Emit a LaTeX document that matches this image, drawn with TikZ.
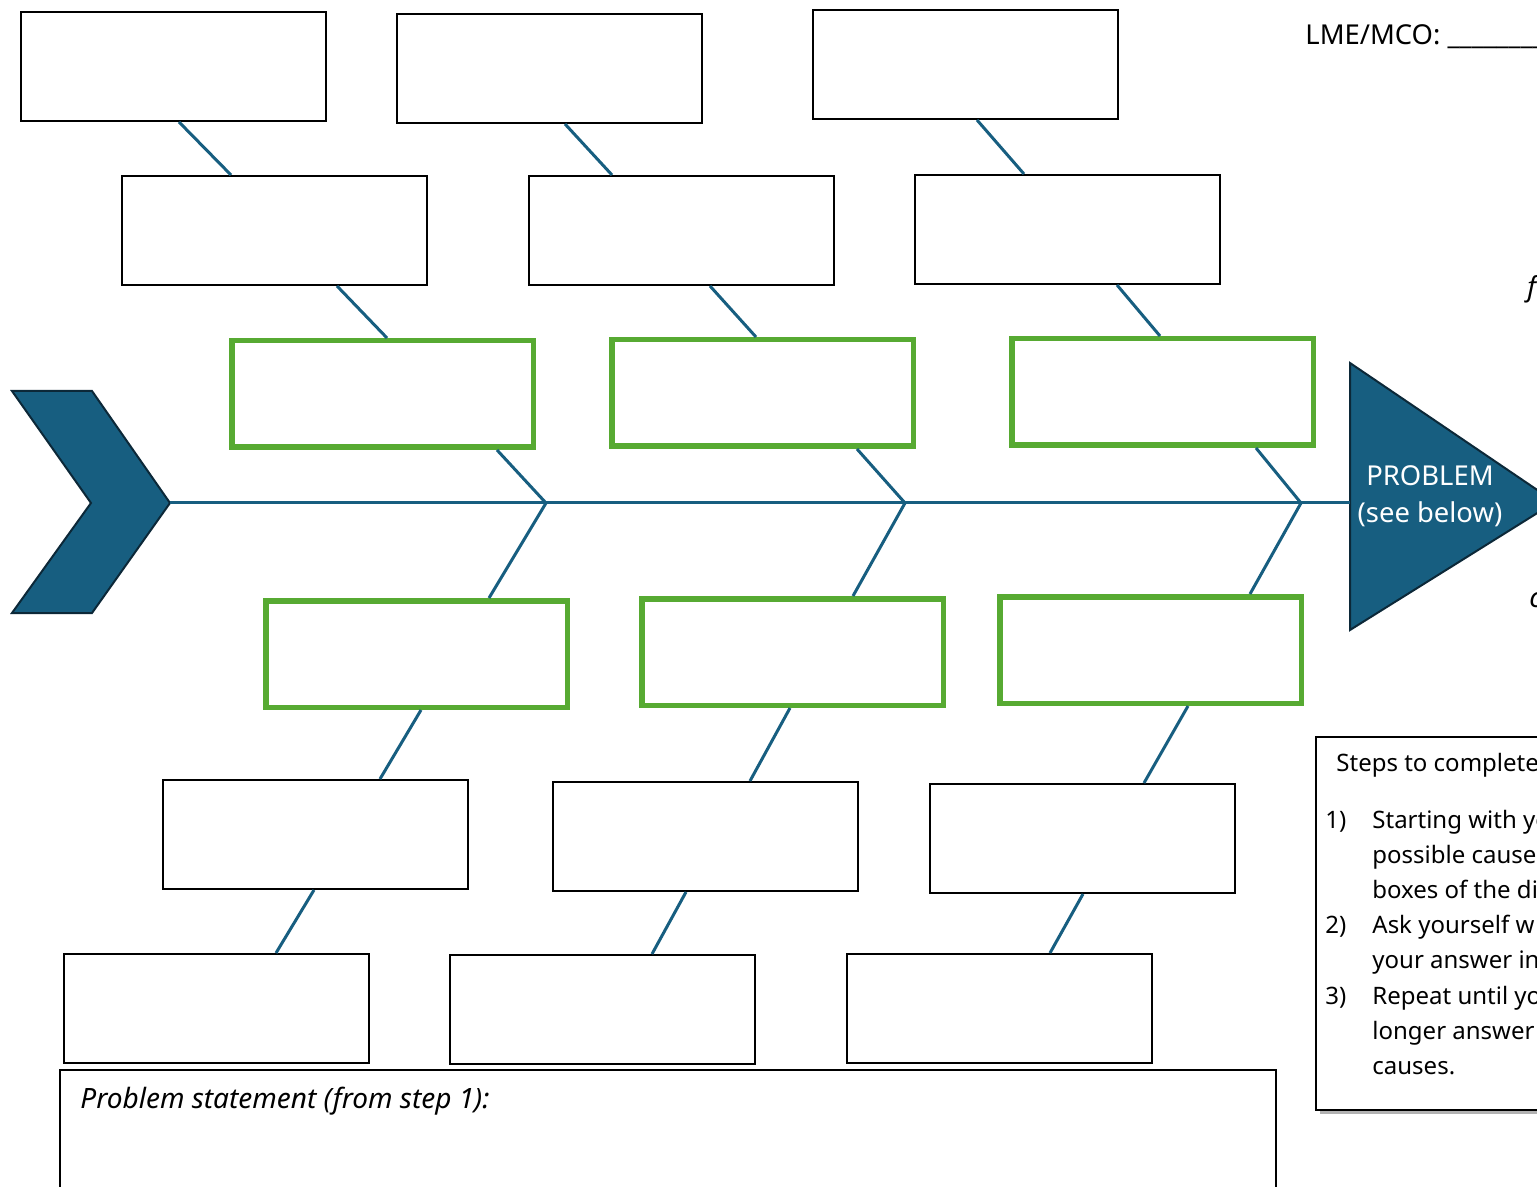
\documentclass[tikz,border=0pt]{standalone}
\usepackage{fontspec}
\setmainfont{Noto Sans}
\usetikzlibrary{calc,shadows}
\definecolor{fishblue}{RGB}{23,94,128}
\definecolor{fishedge}{RGB}{12,40,56}
\definecolor{causegreen}{RGB}{87,170,50}

\begin{document}
\begin{tikzpicture}[x=0.5pt,y=-0.5pt,line join=miter,
  subcause/.style={draw=black,line width=1pt,minimum width=152.5pt,minimum height=54.5pt,inner sep=0pt},
  maincause/.style={draw=causegreen,line width=2.75pt,minimum width=150.75pt,minimum height=53.25pt,inner sep=0pt},
  bone/.style={draw=fishblue,line width=1.5pt},
  txt/.style={anchor=base west,inner sep=0pt,font=\fontsize{12}{14}\selectfont},
  bigtxt/.style={txt,font=\fontsize{13.7}{16}\selectfont}]
\useasboundingbox (0,0) rectangle (1537,1187);
% upper boxes
\node[subcause] (a1) at (173.5,66.5) {};
\node[subcause] (a2) at (549,68.5) {};
\node[subcause] (a3) at (965,64.5) {};
\node[subcause] (b1) at (274.5,230.5) {};
\node[subcause] (b2) at (681.5,230.5) {};
\node[subcause] (b3) at (1067.5,229.5) {};
\node[maincause] (g1) at (382.5,394) {};
\node[maincause] (g2) at (762.5,393) {};
\node[maincause] (g3) at (1162.5,392) {};
% lower boxes
\node[maincause] (h1) at (416.5,654) {};
\node[maincause] (h2) at (792.5,652) {};
\node[maincause] (h3) at (1150.5,650) {};
\node[subcause] (c1) at (315,834.5) {};
\node[subcause] (c2) at (705,836.5) {};
\node[subcause] (c3) at (1082,838.5) {};
\node[subcause] (d1) at (216.5,1008.5) {};
\node[subcause] (d2) at (602,1009.5) {};
\node[subcause] (d3) at (999,1008.5) {};
% tail and head
\draw[fill=fishblue,draw=fishedge,line width=1pt] (12,391) -- (92,391) -- (170,503) coordinate (tail)
  -- (92,613) -- (12,613) -- (91,503) -- cycle;
\draw[fill=fishblue,draw=fishedge,line width=1pt] (1350,363) -- (1555,502) -- (1350,630) -- cycle;
\coordinate (head) at (1350,503);
\node[bigtxt,anchor=center,text=white] (prob1) at (1430,476) {PROBLEM};
\node[bigtxt,anchor=center,text=white] (prob2) at (1430,514) {(see below)};
% spine
\coordinate (j1) at (546,503);
\coordinate (j2) at (905,503);
\coordinate (j3) at (1301,503);
\draw[bone] (tail) -- (head);
\foreach \p/\dp/\q/\dq in {a1/5.5/b1/-43.5, a2/16/b2/-69.5, a3/12/b3/-43.5,
    b1/62.5/g1/4.5, b2/28.5/g2/-6.5, b3/49.5/g3/-2.5,
    h1/4.5/c1/65, h2/-2.5/c2/45, h3/37.5/c3/62,
    c1/-1/d1/59.5, c2/-19/d2/50, c3/1/d3/51}
  \draw[bone] ($(\p.south)+(\dp,0)$) -- ($(\q.north)+(\dq,0)$);
\foreach \g/\dg/\j/\h/\dh in {g1/114.5/j1/h1/72.5, g2/94.5/j2/h2/60.5, g3/93.5/j3/h3/99.5}{
  \draw[bone] ($(\g.south)+(\dg,0)$) -- (\j);
  \draw[bone] (\j) -- ($(\h.north)+(\dh,0)$);
}
% texts on the right
\node[bigtxt] (lme) at (1305,45) {LME/MCO: \_\_\_\_\_\_\_\_\_\_};
\node[bigtxt,font=\fontsize{13.7}{16}\selectfont\itshape] (fpart) at (1527,297) {f};
\node[bigtxt,font=\fontsize{13.7}{16}\selectfont\bfseries\itshape] (cpart) at (1529,607) {c};
% steps box
\draw[line width=1pt,fill=white,drop shadow={shadow xshift=2pt,shadow yshift=-2pt,opacity=0.5,fill=black!60}]
  (1316,737) rectangle (1580,1110);
\node[txt] (steps) at (1336,771) {Steps to complete};
\foreach \yy/\num/\line [count=\i] in {828/1)/Starting with yo, 863//possible cause, 898//boxes of the di,
    933/2)/Ask yourself w, 968//your answer in, 1004/3)/Repeat until yo,
    1039//longer answer, 1074//causes.}{
  \node[txt] (num\i) at (1325,\yy) {\num};
  \node[txt] (line\i) at (1372,\yy) {\line};
}
% problem statement
\draw[line width=1pt] (60,1070) rectangle (1276,1220);
\node[bigtxt,font=\fontsize{14}{16}\selectfont\itshape] (stmt) at (80,1108) {Problem statement (from step 1):};
\end{tikzpicture}
\end{document}
